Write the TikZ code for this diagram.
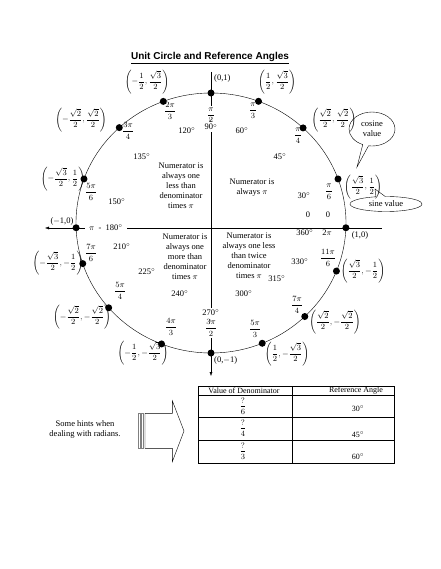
\documentclass[tikz,border=0pt]{standalone}
\usepackage{amsmath}
\usepackage{graphicx}
\usepackage{fontspec}
\setmainfont{Liberation Serif}
\newfontfamily\headfont{Liberation Sans}
\usetikzlibrary{arrows.meta, shapes.geometric, shapes.callouts}

\newcommand{\fr}[2]{$\dfrac{#1}{#2}$}
\newcommand{\pr}[2]{$\left(#1,#2\right)$}
\newcommand{\dg}[1]{#1$^{\circ}$}
\newcommand{\tickmark}{\rotatebox{90}{-}}

\begin{document}
\begin{tikzpicture}[x=1pt, y=-1pt,
      every node/.style={font=\fontsize{8.5}{10}\selectfont, inner sep=1pt},
      dot/.style={circle, fill=black, inner sep=0pt, minimum size=7pt},
      frac/.style={font=\fontsize{8.5}{10}\selectfont},
      pair/.style={font=\fontsize{8}{9.5}\selectfont},
      onaxis/.style={fill=white, inner sep=2pt, align=center},
      note/.style={align=center},
      cell/.style={font=\fontsize{8}{10}\selectfont},
      axis/.style={thin, -{Latex[length=4pt, width=3pt]}},
      bubble/.style={ellipse callout, draw, thin, align=center, inner sep=0pt}
    ]
    \useasboundingbox (0,0) rectangle (440,569);

    \node[font=\headfont\bfseries\fontsize{10}{12}\selectfont] (title) at (210,58)
          {\underline{Unit Circle and Reference Angles}};

    % axes and circle
    \coordinate (xl) at (45,228);
    \coordinate (xr) at (382,228);
    \coordinate (yt) at (211,72);
    \coordinate (yb) at (211,376);
    \draw[axis] (yt) -- (yb);
    \draw[axis, {Latex[length=4pt, width=3pt]}-] (xl) -- (xr);
    \draw (211,223) ellipse [x radius=135pt, y radius=130pt];

    % labels sitting on the axes
    \node[onaxis] (top) at (211,119) {\fr{\pi}{2}\\[-4pt]\tickmark\\[-3pt]\dg{90}};
    \node[onaxis] (bot) at (211,323) {\dg{270}\\[-3pt]\tickmark\\[-4pt]\fr{3\pi}{2}};
    \node[onaxis, inner xsep=4pt] (lft) at (106,228) {$\pi$\ \ -\ \ \dg{180}};

    \begin{scope}[shift={(211,223)}]
      \foreach \a/\n in {-2.1/d0, 19.8/d30, 47/d45, 69.4/d60, 90/d90,
                         110.7/d120, 132.8/d135, 160.2/d150, 182.1/d180,
                         198.2/d210, 220.7/d225, 248.5/d240, 270/d270,
                         292.3/d300, 314/d315, 338.3/d330}
        \node[dot] (\n) at (\a:135pt and 130pt) {};
    \end{scope}

    % coordinates of the points
    \node[anchor=west] (c90) at (213,78) {(0,1)};
    \node[pair] (c60) at (277,82) {\pr{\dfrac{1}{2}}{\dfrac{\sqrt{3}}{2}}};
    \node[pair] (c45) at (334,120) {\pr{\dfrac{\sqrt{2}}{2}}{\dfrac{\sqrt{2}}{2}}};
    \node[pair] (c30) at (363,187) {\pr{\dfrac{\sqrt{3}}{2}}{\dfrac{1}{2}}};
    \node (c0) at (360,235) {(1,0)};
    \node[pair] (c120) at (147,82) {\pr{-\dfrac{1}{2}}{\dfrac{\sqrt{3}}{2}}};
    \node[pair] (c135) at (81,120) {\pr{-\dfrac{\sqrt{2}}{2}}{\dfrac{\sqrt{2}}{2}}};
    \node[pair] (c150) at (63,179) {\pr{-\dfrac{\sqrt{3}}{2}}{\dfrac{1}{2}}};
    \node (c180) at (62,221) {($-$1,0)};
    \node[pair] (c210) at (58,263) {\pr{-\dfrac{\sqrt{3}}{2}}{-\dfrac{1}{2}}};
    \node[pair] (c225) at (82,317) {\pr{-\dfrac{\sqrt{2}}{2}}{-\dfrac{\sqrt{2}}{2}}};
    \node[pair] (c240) at (143,353) {\pr{-\dfrac{1}{2}}{-\dfrac{\sqrt{3}}{2}}};
    \node[anchor=west] (c270) at (213,360) {(0,$-$1)};
    \node[pair] (c300) at (287,354) {\pr{\dfrac{1}{2}}{-\dfrac{\sqrt{3}}{2}}};
    \node[pair] (c315) at (335,322) {\pr{\dfrac{\sqrt{2}}{2}}{-\dfrac{\sqrt{2}}{2}}};
    \node[pair] (c330) at (363,271) {\pr{\dfrac{\sqrt{3}}{2}}{-\dfrac{1}{2}}};

    % radians
    \node[frac] (r60)  at (253,111) {\fr{\pi}{3}};
    \node[frac] (r45)  at (298,136) {\fr{\pi}{4}};
    \node[frac] (r30)  at (329,192) {\fr{\pi}{6}};
    \node (r0a) at (328,215) {0};
    \node (r0b) at (327,233) {2$\pi$};
    \node[frac] (r120) at (170,111) {\fr{2\pi}{3}};
    \node[frac] (r135) at (128,131) {\fr{3\pi}{4}};
    \node[frac] (r150) at (91,192) {\fr{5\pi}{6}};
    \node[frac] (r210) at (91,253) {\fr{7\pi}{6}};
    \node[frac] (r225) at (120,291) {\fr{5\pi}{4}};
    \node[frac] (r240) at (171,327) {\fr{4\pi}{3}};
    \node[frac] (r300) at (255,329) {\fr{5\pi}{3}};
    \node[frac] (r315) at (297,305) {\fr{7\pi}{4}};
    \node[frac] (r330) at (328,258) {\fr{11\pi}{6}};

    % degrees
    \node (g60)  at (242,131) {\dg{60}};
    \node (g45)  at (280,157) {\dg{45}};
    \node (g30)  at (304,196) {\dg{30}};
    \node (g0a)  at (308,215) {0};
    \node (g0b)  at (305,233) {\dg{360}};
    \node (g120) at (187,131) {\dg{120}};
    \node (g135) at (142,157) {\dg{135}};
    \node (g150) at (117,202) {\dg{150}};
    \node (g210) at (122,247) {\dg{210}};
    \node (g225) at (147,272) {\dg{225}};
    \node (g240) at (180,294) {\dg{240}};
    \node (g300) at (244,294) {\dg{300}};
    \node (g315) at (277,279) {\dg{315}};
    \node (g330) at (300,262) {\dg{330}};

    % quadrant notes
    \node[note] (q1) at (252,188) {Numerator is\\always $\pi$};
    \node[note] (q2) at (181,186) {Numerator is\\always one\\less than\\denominator\\times $\pi$};
    \node[note] (q3) at (185,257) {Numerator is\\always one\\more than\\denominator\\times $\pi$};
    \node[note] (q4) at (249,256) {Numerator is\\always one less\\than twice\\denominator\\times $\pi$};

    % callouts
    \coordinate (costip) at (357,167);
    \coordinate (sintip) at (375,189);
    \node[bubble, callout absolute pointer={(costip)}, minimum width=46pt,
          minimum height=34pt] (cosv) at (372,129) {cosine\\value};
    \node[bubble, callout absolute pointer={(sintip)}, minimum width=72pt,
          minimum height=15pt] (sinv) at (386,204) {sine value};

    % hints
    \node[note] (hint) at (85,429) {Some hints when\\dealing with radians.};
    \draw (145,413.3) -- (172.3,413.3) -- (172.3,400.7) -- (184,431)
          -- (172.3,461.7) -- (172.3,448.3) -- (145,448.3) -- cycle;
    \draw[gray] (138,413.3) rectangle (140,448.3);
    \draw[gray] (141.5,413.3) rectangle (143.5,448.3);

    % table
    \draw (198,386) rectangle (394,463);
    \foreach \y in {395,416.7,440}
      \draw (198,\y) -- (394,\y);
    \draw (292,386) -- (292,463);
    \node[cell] (h1) at (244,390.5) {Value of Denominator};
    \node[cell] (h2) at (356,390.5) {Reference Angle};
    \node[frac] (f6) at (243,406) {\fr{?}{6}};
    \node[frac] (f4) at (243,428) {\fr{?}{4}};
    \node[frac] (f3) at (243,451) {\fr{?}{3}};
    \node[cell] (v30) at (358,409) {\dg{30}};
    \node[cell] (v45) at (358,435) {\dg{45}};
    \node[cell] (v60) at (358,457) {\dg{60}};
  \end{tikzpicture}
\end{document}
